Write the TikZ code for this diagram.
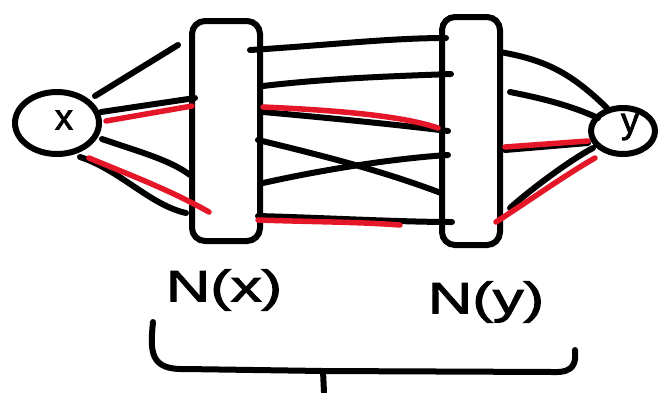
\documentclass[tikz,border=0pt]{standalone}
\usepackage{fontspec}
\setmainfont{Liberation Sans}
\newfontfamily\handfont{Liberation Sans}[FakeBold=2.2]
\newfontfamily\widehand{Liberation Sans}[FakeBold=2.4, FakeStretch=1.4]
\usetikzlibrary{shapes.geometric}
\definecolor{inkred}{RGB}{228,22,40}
\begin{document}
\begin{tikzpicture}[x=1pt,y=-1pt,
  ink/.style={line width=6pt, line cap=round, line join=round, draw=black},
  redink/.style={line width=5.5pt, line cap=round, line join=round, draw=inkred},
  hood/.style={draw, line width=6pt, rounded corners=13pt, inner sep=0pt},
  vertex/.style={draw, ellipse, line width=6pt, inner sep=0pt},
  hand/.style={font=\widehand\fontsize{44}{44}\selectfont}]
\useasboundingbox (0,0) rectangle (659,392);

% the two vertices and their neighbourhoods
\node[vertex, minimum width=84pt, minimum height=62pt] (x) at (57,123) {};
\node[font=\handfont\fontsize{36}{36}\selectfont] (xl) at (64,120) {x};
\node[vertex, minimum width=64pt, minimum height=46pt] (y) at (623,131) {};
\node[font=\handfont\fontsize{36}{36}\selectfont] (yl) at (630,127) {y};
\node[hood, minimum width=68pt, minimum height=220pt] (nx) at (226,131) {};
\node[hood, minimum width=58pt, minimum height=228pt] (ny) at (471,131) {};

% end points of the edges
\coordinate (xa) at (95,96);   \coordinate (xa') at (178,45);
\coordinate (xb) at (101,112); \coordinate (xb') at (195,98);
\coordinate (xc) at (106,121); \coordinate (xc') at (192,106);
\coordinate (xd) at (102,139); \coordinate (xd') at (190,175);
\coordinate (xe) at (80,157);  \coordinate (xe') at (186,213);
\coordinate (xf) at (89,158);  \coordinate (xf') at (209,212);

\coordinate (ma) at (250,50);  \coordinate (ma') at (446,38);
\coordinate (mb) at (263,86);  \coordinate (mb') at (451,74);
\coordinate (mc) at (263,112); \coordinate (mc') at (448,131);
\coordinate (md) at (263,107); \coordinate (md') at (438,128);
\coordinate (me) at (258,140); \coordinate (me') at (441,193);
\coordinate (mf) at (263,183); \coordinate (mf') at (448,155);
\coordinate (mg) at (258,216); \coordinate (mg') at (452,222);
\coordinate (mh) at (258,220); \coordinate (mh') at (400,225);

\coordinate (ya) at (500,52);  \coordinate (ya') at (607,108);
\coordinate (yb) at (510,92);  \coordinate (yb') at (598,118);
\coordinate (yc) at (505,150); \coordinate (yc') at (588,143);
\coordinate (yd) at (505,147); \coordinate (yd') at (588,141);
\coordinate (ye) at (510,208); \coordinate (ye') at (593,148);
\coordinate (yf) at (496,222); \coordinate (yf') at (595,158);

% x to N(x)
\draw[ink] (xa) -- (xa');
\draw[ink] (xb) -- (xb');
\draw[redink] (xc) -- (xc');
\draw[ink] (xd) .. controls (140,152) and (170,160) .. (xd');
\draw[ink] (xe) .. controls (120,170) and (150,205) .. (xe');
\draw[redink] (xf) .. controls (130,175) and (170,190) .. (xf');

% N(x) to N(y)
\draw[ink] (ma) .. controls (330,45) and (390,38) .. (ma');
\draw[ink] (mb) .. controls (330,78) and (400,76) .. (mb');
\draw[ink] (mc) .. controls (330,118) and (400,125) .. (mc');
\draw[redink] (md) .. controls (330,110) and (400,115) .. (md');
\draw[ink] (me) .. controls (320,155) and (380,170) .. (me');
\draw[ink] (mf) .. controls (330,168) and (400,158) .. (mf');
\draw[ink] (mg) .. controls (330,218) and (400,222) .. (mg');
\draw[redink] (mh) .. controls (320,222) and (360,222) .. (mh');

% N(y) to y
\draw[ink] (ya) .. controls (545,60) and (570,72) .. (ya');
\draw[ink] (yb) .. controls (540,98) and (570,105) .. (yb');
\draw[ink] (yc) -- (yc');
\draw[redink] (yd) -- (yd');
\draw[ink] (ye) .. controls (530,190) and (570,160) .. (ye');
\draw[redink] (yf) .. controls (530,200) and (570,172) .. (yf');

% labels
\node[hand] (lx) at (224,290) {N(x)};
\node[hand] (ly) at (486,302) {N(y)};

% brace under both neighbourhoods
\coordinate (bl) at (153,322);
\coordinate (br) at (575,350);
\coordinate (bm) at (323,371);
\coordinate (bt) at (324,392);
\draw[ink] (bl) .. controls (150,352) and (150,370) .. (185,369)
  -- (bm) -- (553,372) .. controls (575,373) and (576,362) .. (br);
\draw[ink] (bm) -- (bt);
\end{tikzpicture}
\end{document}
